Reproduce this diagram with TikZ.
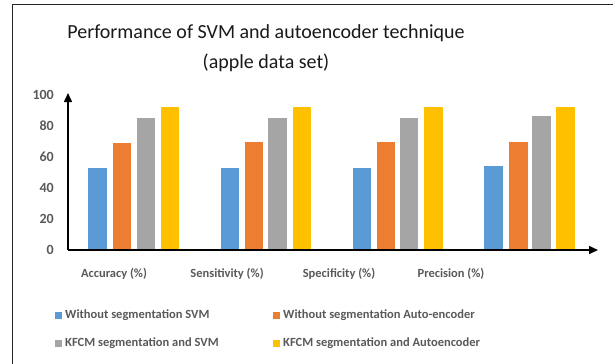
\documentclass[tikz,border=0pt]{standalone}
\usepackage{fontspec}
\setmainfont{Carlito}
\usetikzlibrary{arrows.meta}

\definecolor{svmblue}{HTML}{5B9BD5}
\definecolor{aeorange}{HTML}{ED7D31}
\definecolor{kfgray}{HTML}{A5A5A5}
\definecolor{kfyellow}{HTML}{FFC000}
\definecolor{txtgray}{HTML}{595959}

\tikzset{
	smallbold/.style={text=txtgray,inner sep=0pt,font=\fontsize{12.5}{15}\selectfont\bfseries},
	ticklbl/.style={smallbold,anchor=east,font=\fontsize{14}{16}\selectfont\bfseries},
	catlbl/.style={smallbold},
	leglbl/.style={smallbold,anchor=west},
	legkey/.style={minimum size=7pt,inner sep=0pt},
	axisline/.style={line width=1.5pt,-{Triangle[width=8pt,length=9pt]}}
}

\begin{document}
\begin{tikzpicture}[x=1pt,y=-1pt]
	
	\useasboundingbox (0,0) rectangle (613,364);
	\draw[line width=1.5pt,black!85](613,4.5)--(12.5,4.5)--(12.5,364);
	
	\node[align=center,font=\fontsize{20}{30}\selectfont,text=black!90] (title) at (266,48)
	{Performance of SVM and autoencoder technique\\(apple data set)};
	
	
	\fill[svmblue](88,250) rectangle (107,168);
	\fill[aeorange](113,250) rectangle (131,143);
	\fill[kfgray](137,250) rectangle (155,118);
	\fill[kfyellow](161,250) rectangle (179,107);
	
	\fill[svmblue](221,250) rectangle (239,168);
	\fill[aeorange](245,250) rectangle (263,142);
	\fill[kfgray](268,250) rectangle (287,118);
	\fill[kfyellow](293,250) rectangle (311,107);
	
	\fill[svmblue](353,250) rectangle (371,168);
	\fill[aeorange](377,250) rectangle (395,142);
	\fill[kfgray](400,250) rectangle (418,118);
	\fill[kfyellow](424,250) rectangle (443,107);
	
	\fill[svmblue](484,250) rectangle (503,166);
	\fill[aeorange](509,250) rectangle (528,142);
	\fill[kfgray](532,250) rectangle (551,116);
	\fill[kfyellow](556,250) rectangle (575,107);
	
	
	\coordinate (origin) at (68,250);
	\coordinate (ytop) at (68,93);
	\coordinate (xend) at (598,250);
	\draw[axisline](origin)--(ytop);
	\draw[axisline](origin)--(xend);
	
	
	\node[ticklbl] (t0) at (54,250){0};
	\node[ticklbl] (t20) at (54,219){20};
	\node[ticklbl] (t40) at (54,188){40};
	\node[ticklbl] (t60) at (54,157){60};
	\node[ticklbl] (t80) at (54,126){80};
	\node[ticklbl] (t100) at (54,95){100};
	
	
	\node[catlbl] (accuracy) at (114,274){Accuracy (\%)};
	\node[catlbl] (sensitivity) at (227,274){Sensitivity (\%)};
	\node[catlbl] (specificity) at (339,274){Specificity (\%)};
	\node[catlbl] (precision) at (451,274){Precision (\%)};
	
	
	\node[legkey,fill=svmblue] (keyA) at (58.5,315){};
	\node[leglbl] (legA) at (65,315){Without segmentation SVM};
	\node[legkey,fill=aeorange] (keyB) at (276.5,315){};
	\node[leglbl] (legB) at (283,315){Without segmentation Auto-encoder};
	\node[legkey,fill=kfgray] (keyC) at (58.5,343){};
	\node[leglbl] (legC) at (65,343){KFCM segmentation and SVM};
	\node[legkey,fill=kfyellow] (keyD) at (276.5,343){};
	\node[leglbl] (legD) at (283,343){KFCM segmentation and Autoencoder};
	\end{tikzpicture}
\end{document}
